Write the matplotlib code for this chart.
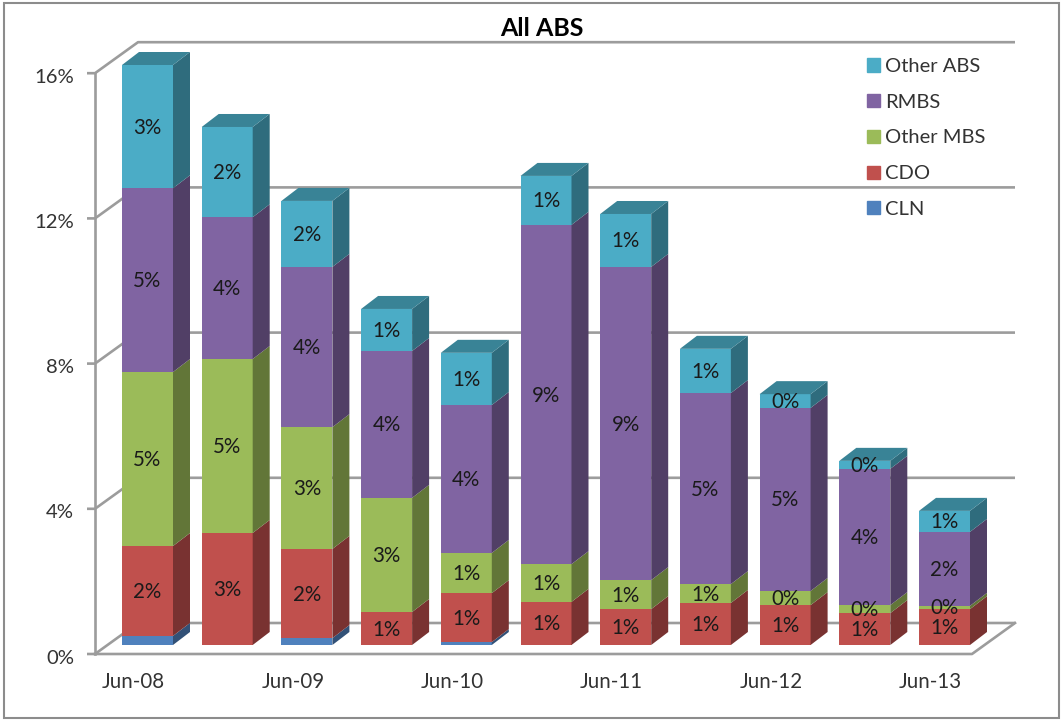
import matplotlib
matplotlib.use('Agg')
import matplotlib.pyplot as plt
from matplotlib.patches import Patch, Polygon, Rectangle
from matplotlib.colors import to_rgb
import numpy as np

plt.rcParams['font.family'] = ['Lato', 'DejaVu Sans']

W, H = 1061, 720

# stack tops, in percent
months = ['Jun-08', 'Dec-08', 'Jun-09', 'Dec-09', 'Jun-10', 'Dec-10',
          'Jun-11', 'Dec-11', 'Jun-12', 'Dec-12', 'Jun-13']
cln = [0.25, 0, 0.19, 0, 0.08, 0, 0, 0, 0, 0, 0]
cdo = [2.48, 3.09, 2.46, 0.91, 1.35, 1.19, 0.99, 1.16, 1.10, 0.88, 0.99]
other_mbs = [4.80, 4.80, 3.36, 3.15, 1.11, 1.04, 0.80, 0.52, 0.39, 0.22, 0.09]
rmbs = [5.07, 3.91, 4.42, 4.05, 4.08, 9.36, 8.64, 5.27, 5.05, 3.76, 2.04]
other_abs = [3.40, 2.49, 1.82, 1.16, 1.44, 1.35, 1.46, 1.22, 0.38, 0.22, 0.58]

series = [('CLN', cln, '#4F81BD'), ('CDO', cdo, '#C0504D'),
          ('Other MBS', other_mbs, '#9BBB59'), ('RMBS', rmbs, '#8064A2'),
          ('Other ABS', other_abs, '#4BACC6')]
y_ticks = [0, 4, 8, 12, 16]

# pixel scale of the axes covering the whole figure
step = 79.7
yscale = 36.25
x0 = 147.5
y0 = 645
bar_w = 51 / step

fig = plt.figure(figsize=(W / 100, H / 100), dpi=100)
ax = fig.add_axes([0, 0, 1, 1])
ax.set_xlim(-x0 / step, (W - x0) / step)
ax.set_ylim((y0 - H) / yscale, y0 / yscale)
ax.axis('off')

dx = 17 / step    # bar depth
dy = 13 / yscale
fx = -x0 / step + 95 / step   # front wall x
ex = fx + 877 / step          # floor front right
wx = 43 / step                # wall depth
fy = -9 / yscale              # front wall shift
wy = 31 / yscale
grid = '#9C9C9C'

# walls
for t in y_ticks:
    yf = t * 36.3 / yscale + fy
    ax.plot([fx - 8 / step, fx, fx + wx, ex + wx], [yf, yf, yf + wy, yf + wy],
            color=grid, lw=1.9, zorder=1, solid_capstyle='butt')
ax.plot([fx, fx], [fy, 16 * 36.3 / yscale + fy], color=grid, lw=1.9, zorder=1)
ax.plot([fx, ex, ex + wx], [fy, fy, fy + wy], color=grid, lw=1.9, zorder=1)

xs = np.arange(len(months))
bottom = np.zeros(len(months))
for name, vals, col in series:
    vals = np.array(vals)
    rgb = np.array(to_rgb(col))
    ax.bar(xs, vals, bar_w, bottom=bottom, color=col, zorder=3)
    for i, v in enumerate(vals):
        if v == 0:
            continue
        r = xs[i] + bar_w / 2
        b = bottom[i]
        ax.add_patch(Polygon([(r, b), (r + dx, b + dy), (r + dx, b + v + dy), (r, b + v)],
                             color=rgb * 0.63, lw=0, zorder=3))
        if name != 'CLN':
            ax.text(xs[i], b + v / 2 - 1 / yscale, '%.0f%%' % v, ha='center', va='center',
                    fontsize=14.8, color='#1a1a1a', zorder=5)
    bottom = bottom + vals

# top faces
top_col = np.array(to_rgb('#4BACC6')) * 0.76
for i, t in enumerate(bottom):
    l = xs[i] - bar_w / 2
    r = xs[i] + bar_w / 2
    ax.add_patch(Polygon([(l, t), (r, t), (r + dx, t + dy), (l + dx, t + dy)],
                         color=top_col, lw=0, zorder=3))

for t in y_ticks:
    ax.text(fx - 21 / step, t * 36.3 / yscale + fy - 4 / yscale, '%d%%' % t, ha='right', va='center',
            fontsize=14.6, color='#333333')
for i in range(0, len(months), 2):
    ax.text(xs[i] - 14 / step, -37 / yscale, months[i], ha='center', va='center',
            fontsize=14.8, color='#333333')

ax.text(0.511, 1 - 28 / H, 'All ABS', transform=ax.transAxes, ha='center', va='center',
        fontsize=18, fontweight='bold', color='black')

handles = [Patch(color=c, label=n) for n, v, c in series[::-1]]
ax.legend(handles=handles, loc='upper left', bbox_to_anchor=(867 / W, 1 - 58 / H),
          frameon=False, fontsize=14.5, handlelength=0.63, handleheight=0.63,
          handletextpad=0.28, labelspacing=0.93, borderpad=0, borderaxespad=0,
          labelcolor='#333333')

fig.add_artist(Rectangle((4 / W, 2.5 / H), (W - 6) / W, (H - 5.5) / H, transform=fig.transFigure,
                         fill=False, ec='#8c8c8c', lw=1.5))

fig.savefig('out.png', dpi=100)
